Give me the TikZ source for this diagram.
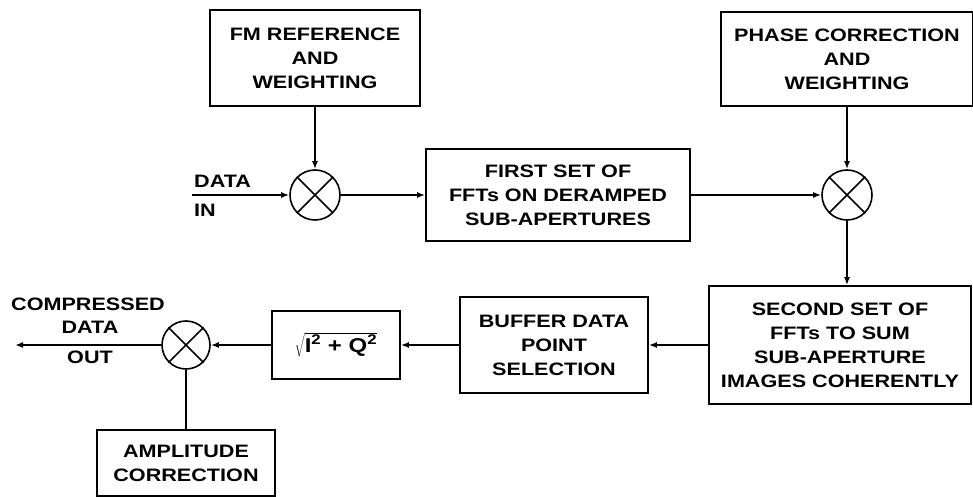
\documentclass[tikz,border=0pt]{standalone}
\usepackage{fontspec}
\setmainfont{Liberation Sans}[FakeStretch=1.2]
\usetikzlibrary{arrows.meta}

\tikzset{
    blk/.style={draw, line width=1.8pt, align=center, inner sep=0pt,
        font=\fontsize{18}{24}\selectfont\bfseries},
    mixer/.style={draw, circle, line width=1.6pt, minimum size=50pt, inner sep=0pt},
    lbl/.style={inner sep=0pt, font=\fontsize{18}{24}\selectfont\bfseries},
    sig/.style={line width=1.6pt, -{Latex[length=8pt,width=6pt]}},
}

\begin{document}
\begin{tikzpicture}[x=1pt,y=-1pt]
        \useasboundingbox (0,0) rectangle (973,497);

        \node[blk, minimum width=210pt, minimum height=96pt] (fm) at (315,58) {FM REFERENCE\\AND\\WEIGHTING};
        \node[mixer] (mix1) at (315,195) {};
        \node[blk, minimum width=264pt, minimum height=92pt] (first) at (558,195) {FIRST SET OF\\FFTs ON DERAMPED\\SUB-APERTURES};
        \node[blk, minimum width=252pt, minimum height=94pt] (phase) at (847,59) {PHASE CORRECTION\\AND\\WEIGHTING};
        \node[mixer] (mix2) at (847,195) {};
        \node[blk, minimum width=262pt, minimum height=118pt] (second) at (840,345) {SECOND SET OF\\FFTs TO SUM\\SUB-APERTURE\\IMAGES COHERENTLY};
        \node[blk, minimum width=188pt, minimum height=96pt] (buffer) at (554,345) {BUFFER DATA\\POINT\\SELECTION};
        \node[blk, minimum width=128pt, minimum height=68pt, font=\fontsize{20}{24}\selectfont\bfseries] (root) at (336,345)
            {$\sqrt{\mbox{I\textsuperscript{2} + Q\textsuperscript{2}}}$};
        \node[mixer, minimum size=48pt] (mix3) at (186,345) {};
        \node[blk, minimum width=178pt, minimum height=66pt] (amp) at (186,463) {AMPLITUDE\\CORRECTION};

        \coordinate (datain) at (192,195);
        \coordinate (dataout) at (15,345);
        \node[lbl, anchor=west] (inlbl1) at (194,181) {DATA};
        \node[lbl, anchor=west] (inlbl2) at (194,210) {IN};
        \node[lbl] (outlbl1) at (88,304) {COMPRESSED};
        \node[lbl] (outlbl2) at (90,327) {DATA};
        \node[lbl] (outlbl3) at (90,357) {OUT};

        \foreach \m in {mix1,mix2,mix3}
            \draw[line width=1.6pt] (\m.45) -- (\m.225) (\m.135) -- (\m.315);

        \draw[sig] (fm) -- (mix1);
        \draw[sig] (datain) -- (mix1);
        \draw[sig] (mix1) -- (first);
        \draw[sig] (first) -- (mix2);
        \draw[sig] (phase) -- (mix2);
        \draw[sig] (mix2) -- (mix2 |- second.north);
        \draw[sig] (second.west) -- (buffer);
        \draw[sig] (buffer) -- (root);
        \draw[sig] (root) -- (mix3);
        \draw[sig] (mix3) -- (dataout);
        \draw[line width=1.6pt] (amp) -- (mix3);
    \end{tikzpicture}
\end{document}
